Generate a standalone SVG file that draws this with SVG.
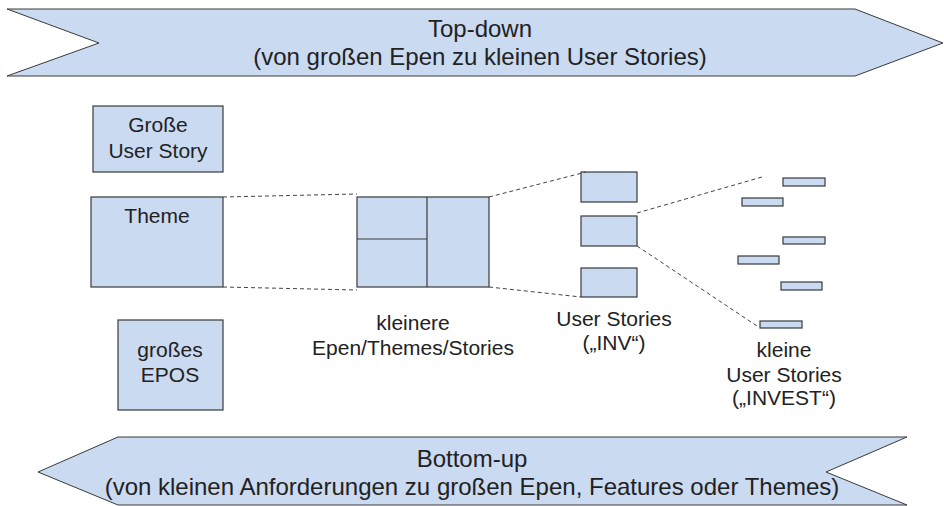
<svg xmlns="http://www.w3.org/2000/svg" width="944" height="506" viewBox="0 0 944 506">
<style>
.shape{fill:#c9daf1;stroke:#3a3a3a;stroke-width:1.2}
.arrow{fill:#c9daf1;stroke:#3a3a3a;stroke-width:1}
.t{font-family:"Liberation Sans",Arial,sans-serif;font-size:21px;fill:#222;text-anchor:middle}
.ta{font-family:"Liberation Sans",Arial,sans-serif;font-size:24px;fill:#222;text-anchor:middle}
.dash{fill:none;stroke:#444;stroke-width:1;stroke-dasharray:4 3}
</style>
<rect width="944" height="506" fill="#ffffff"/>
<g id="topdown">
<polygon class="arrow" points="7,9 855,9 943,43 855,76 7,76 99,43"/>
<text class="ta" x="480" y="37">Top-down</text>
<text class="ta" x="480" y="65">(von großen Epen zu kleinen User Stories)</text>
</g>
<g id="bottomup">
<polygon class="arrow" points="38,472 118,437 907,437 826,472 907,505 118,505"/>
<text class="ta" x="472" y="467">Bottom-up</text>
<text class="ta" x="472" y="495">(von kleinen Anforderungen zu großen Epen, Features oder Themes)</text>
</g>
<g id="grosse-user-story">
<rect class="shape" x="93" y="106" width="130" height="66"/>
<text class="t" x="158" y="132">Große</text>
<text class="t" x="158" y="158">User Story</text>
</g>
<g id="theme">
<rect class="shape" x="91" y="197" width="132" height="90"/>
<text class="t" x="157" y="223">Theme</text>
</g>
<g id="grosses-epos">
<rect class="shape" x="118" y="320" width="105" height="90"/>
<text class="t" x="170" y="357">großes</text>
<text class="t" x="170" y="382">EPOS</text>
</g>
<g id="kleinere">
<rect class="shape" x="357" y="197" width="132" height="90"/>
<line x1="427" y1="197" x2="427" y2="287" stroke="#3a3a3a" stroke-width="1.2"/>
<line x1="357" y1="239" x2="427" y2="239" stroke="#3a3a3a" stroke-width="1.2"/>
<text class="t" x="413" y="330">kleinere</text>
<text class="t" x="413" y="355">Epen/Themes/Stories</text>
</g>
<g id="user-stories">
<rect class="shape" x="581" y="172" width="56" height="30"/>
<rect class="shape" x="581" y="216" width="56" height="30"/>
<rect class="shape" x="581" y="268" width="56" height="29"/>
<text class="t" x="614" y="326">User Stories</text>
<text class="t" x="614" y="350">(„INV“)</text>
</g>
<g id="kleine-user-stories">
<rect class="shape" x="783" y="178" width="42" height="8"/>
<rect class="shape" x="742" y="198" width="41" height="8"/>
<rect class="shape" x="783" y="237" width="42" height="7"/>
<rect class="shape" x="738" y="256" width="41" height="8"/>
<rect class="shape" x="781" y="282" width="41" height="8"/>
<rect class="shape" x="760" y="321" width="42" height="7"/>
<text class="t" x="784" y="357">kleine</text>
<text class="t" x="784" y="382">User Stories</text>
<text class="t" x="784" y="405">(„INVEST“)</text>
</g>
<g id="connectors">
<line class="dash" x1="223" y1="197" x2="357" y2="194"/>
<line class="dash" x1="223" y1="287" x2="357" y2="290"/>
<line class="dash" x1="489" y1="197" x2="586" y2="172"/>
<line class="dash" x1="489" y1="287" x2="581" y2="297"/>
<line class="dash" x1="637" y1="213" x2="762" y2="177"/>
<line class="dash" x1="637" y1="246" x2="757" y2="326"/>
</g>
</svg>
